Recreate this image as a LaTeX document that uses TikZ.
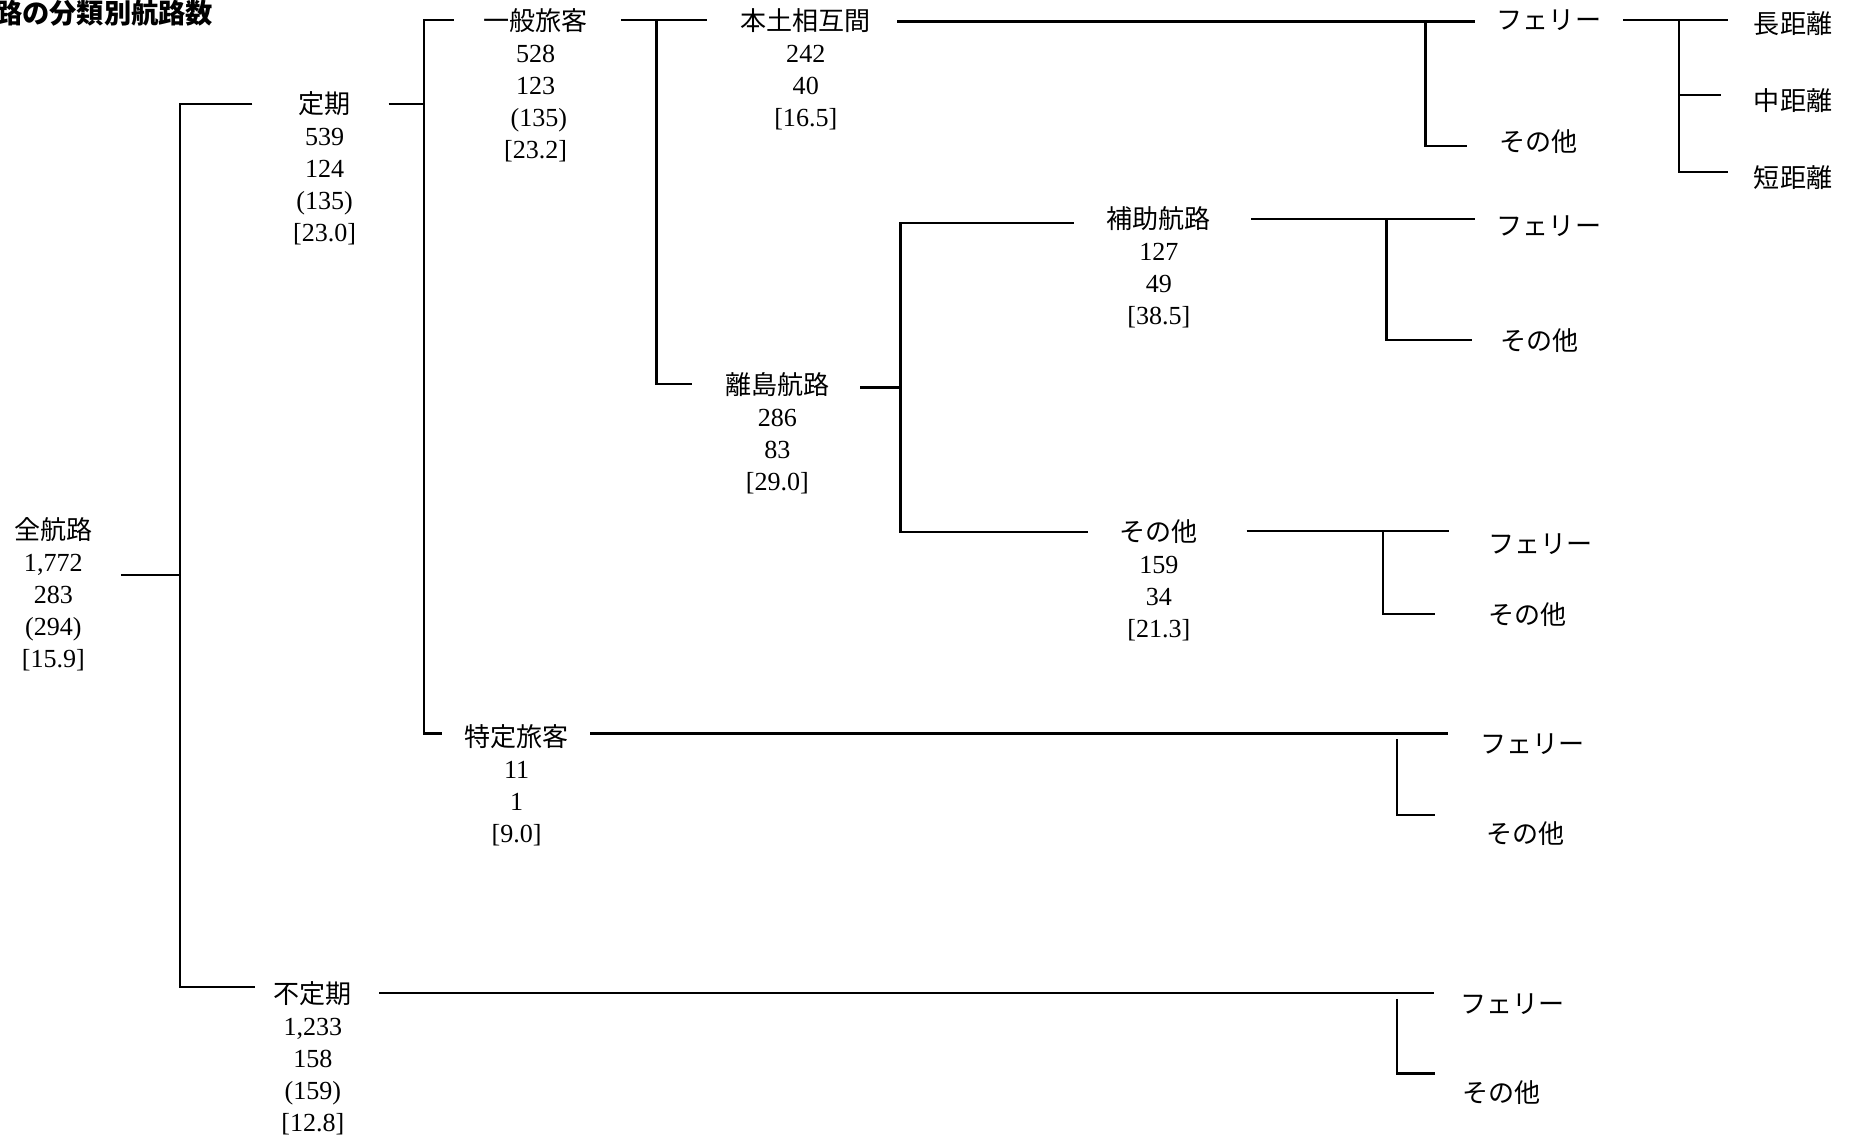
\documentclass[tikz,border=0pt]{standalone}
\usepackage{fontspec}
\setmainfont{Liberation Serif}
\newfontfamily\jp{Noto Sans CJK JP}
\usepackage{xcolor}
\usepackage{tikz}

\begin{document}
\begin{tikzpicture}[x=1pt, y=-1pt,
        line/.style={line width=2pt},
        lab/.style={align=center, anchor=base, inner sep=0pt, font=\fontsize{22}{27}\selectfont},
        leaf/.style={anchor=base west, inner sep=0pt, font=\jp\fontsize{22}{27}\selectfont}]
            \useasboundingbox (0,0) rectangle (1568,960);

            % title, cut at the left edge
            \node[anchor=base east, inner sep=0pt, font=\jp\bfseries\fontsize{23}{27}\selectfont] (title) at (180,20) {路の分類別航路数};

            % the base anchor sits on the last line
            \node[lab] (zen) at (45,563) {{\jp 全航路}\\1,772\\283\\(294)\\{[}15.9]};
            \node[lab] (tei) at (274,204) {{\jp 定期}\\539\\124\\(135)\\{[}23.0]};
            \node[lab] (fut) at (264,955) {{\jp 不定期}\\1,233\\158\\(159)\\{[}12.8]};
            \node[lab] (ippan) at (452,134) {{\jp 一般旅客}\\528\\123\\\ (135)\\{[}23.2]};
            \node[lab] (tokutei) at (436,711) {{\jp 特定旅客}\\11\\1\\{[}9.0]};
            \node[lab] (hondo) at (680,107) {{\jp 本土相互間}\\242\\40\\{[}16.5]};
            \node[lab] (rito) at (656,414) {{\jp 離島航路}\\286\\83\\{[}29.0]};
            \node[lab] (hojo) at (978,274) {{\jp 補助航路}\\127\\49\\{[}38.5]};
            \node[lab] (sonota) at (978,538) {{\jp その他}\\159\\34\\{[}21.3]};

            \node[leaf] (hf) at (1263,25) {フェリー};
            \node[leaf] (hs) at (1265,128) {その他};
            \node[leaf] (long) at (1480,28) {長距離};
            \node[leaf] (mid) at (1480,93) {中距離};
            \node[leaf] (short) at (1480,158) {短距離};
            \node[leaf] (bf) at (1263,199) {フェリー};
            \node[leaf] (bs) at (1266,296) {その他};
            \node[leaf] (sf) at (1256,467) {フェリー};
            \node[leaf] (ss) at (1256,527) {その他};
            \node[leaf] (tf) at (1249,636) {フェリー};
            \node[leaf] (ts) at (1254,712) {その他};
            \node[leaf] (ff) at (1232,855) {フェリー};
            \node[leaf] (fs) at (1234,930) {その他};

            \coordinate (zen-r) at (102,485);
            \coordinate (zen-j) at (152,485);
            \coordinate (tei-l) at (213,88);
            \coordinate (fut-l) at (215,833);
            \draw[line] (zen-r) -- (zen-j); % zen
            \draw[line] (tei-l) -| (zen-j) |- (fut-l); % tei-fut

            \coordinate (tei-r) at (328,88);
            \coordinate (tei-j) at (358,88);
            \coordinate (ippan-l) at (383,17);
            \coordinate (tokutei-l) at (373,619);
            \draw[line] (tei-r) -- (tei-j); % tei
            \draw[line] (ippan-l) -| (tei-j) |- (tokutei-l); % ippan-tokutei

            \coordinate (ippan-r) at (524,17);
            \coordinate (ippan-j) at (554,17);
            \coordinate (hondo-l) at (597,17);
            \coordinate (rito-l) at (584,324);
            \draw[line] (ippan-r) -- (hondo-l); % ippan-hondo
            \draw[line] (ippan-j) |- (rito-l); % ippan-rito

            \coordinate (rito-r) at (726,327);
            \coordinate (rito-j) at (760,327);
            \coordinate (hojo-l) at (906,188);
            \coordinate (sonota-l) at (918,449);
            \draw[line] (rito-r) -- (rito-j); % rito
            \draw[line] (hojo-l) -| (rito-j) |- (sonota-l); % hojo-sonota

            \coordinate (hondo-r) at (757,18);
            \coordinate (hondo-j) at (1203,18);
            \coordinate (hf-l) at (1245,18);
            \coordinate (hs-l) at (1238,123);
            \draw[line] (hondo-r) -- (hf-l); % hondo-hf
            \draw[line] (hondo-j) |- (hs-l); % hondo-hs

            \coordinate (hf-r) at (1370,17);
            \coordinate (hf-j) at (1417,17);
            \coordinate (long-l) at (1458,17);
            \coordinate (mid-l) at (1452,80);
            \coordinate (short-l) at (1458,145);
            \draw[line] (hf-r) -- (long-l); % hf-long
            \draw[line] (hf-j) |- (short-l); % hf-short
            \draw[line] (hf-j |- mid-l) -- (mid-l); % hf-mid

            \coordinate (hojo-r) at (1056,185);
            \coordinate (hojo-j) at (1170,185);
            \coordinate (bf-l) at (1245,185);
            \coordinate (bs-l) at (1242,287);
            \draw[line] (hojo-r) -- (bf-l); % hojo-bf
            \draw[line] (hojo-j) |- (bs-l); % hojo-bs

            \coordinate (sonota-r) at (1052,448);
            \coordinate (sonota-j) at (1167,448);
            \coordinate (sf-l) at (1223,448);
            \coordinate (ss-l) at (1211,518);
            \draw[line] (sonota-r) -- (sf-l); % sonota-sf
            \draw[line] (sonota-j) |- (ss-l); % sonota-ss

            \coordinate (tokutei-r) at (498,619);
            \coordinate (tokutei-j) at (1179,624);
            \coordinate (tf-l) at (1222,619);
            \coordinate (ts-l) at (1211,688);
            \draw[line] (tokutei-r) -- (tf-l); % tokutei-tf
            \draw[line] (tokutei-j) |- (ts-l); % tokutei-ts

            \coordinate (fut-r) at (320,838);
            \coordinate (fut-j) at (1179,843);
            \coordinate (ff-l) at (1210,838);
            \coordinate (fs-l) at (1211,906);
            \draw[line] (fut-r) -- (ff-l); % fut-ff
            \draw[line] (fut-j) |- (fs-l); % fut-fs
        \end{tikzpicture}
\end{document}
